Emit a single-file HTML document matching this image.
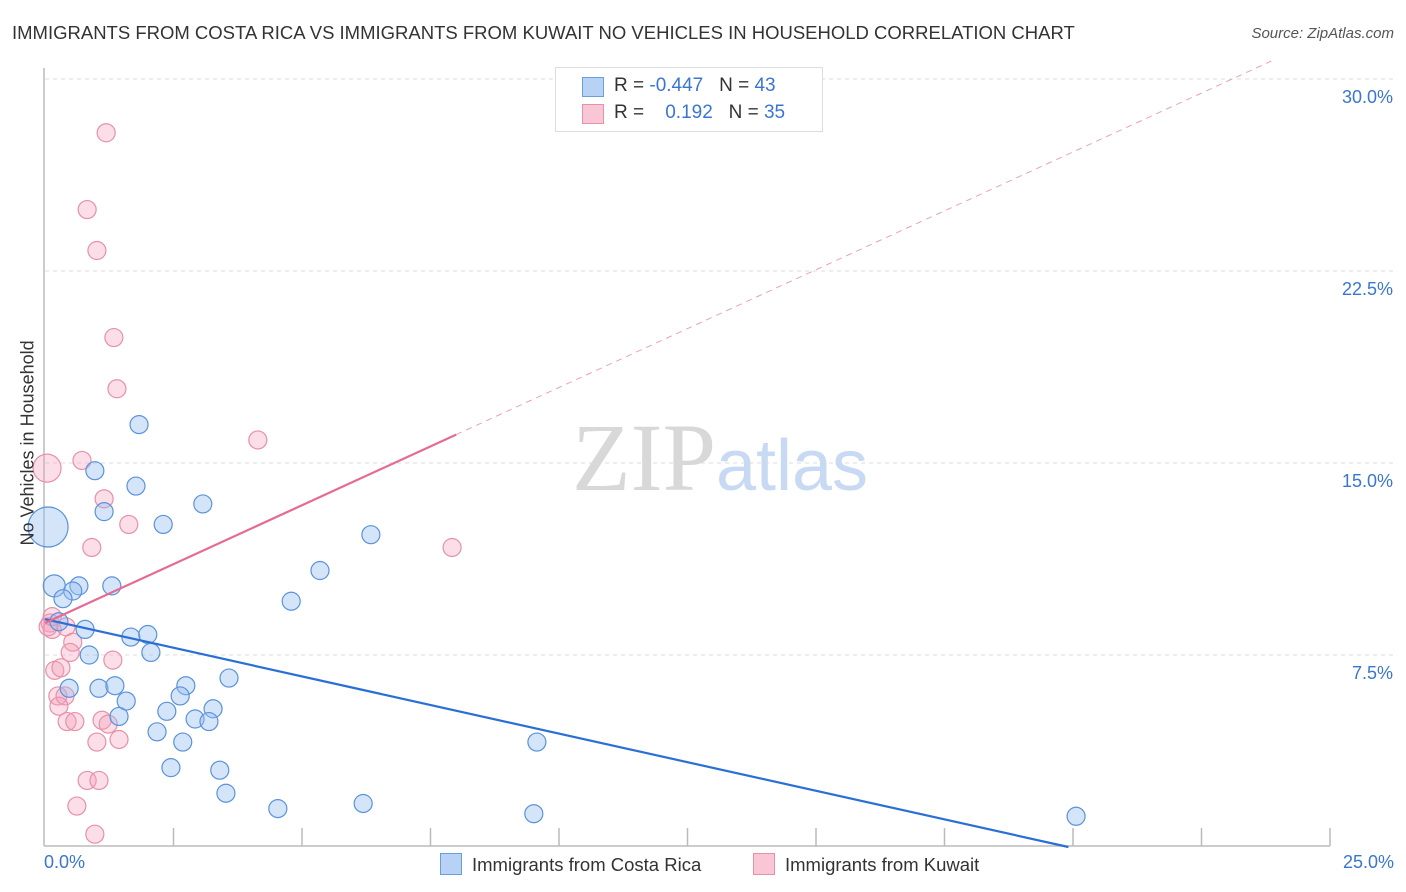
<!DOCTYPE html>
<html><head><meta charset="utf-8"><style>
body{margin:0;background:#fff;font-family:"Liberation Sans",sans-serif;}
#wrap{position:relative;width:1406px;height:892px;overflow:hidden}
.t{position:absolute;white-space:nowrap}
</style></head><body>
<div id="wrap">
<div class="t" style="left:12px;top:22px;font-size:18.5px;color:#333">IMMIGRANTS FROM COSTA RICA VS IMMIGRANTS FROM KUWAIT NO VEHICLES IN HOUSEHOLD CORRELATION CHART</div>
<div class="t" style="right:12px;top:25px;font-size:15px;color:#555;font-style:italic">Source: ZipAtlas.com</div>
<svg id="svg" width="1406" height="892" style="position:absolute;left:0;top:0"></svg>
</div>
<script>
const blueX=[1.83,0.97,1.77,1.15,3.07,2.30,6.34,0.06,0.18,0.66,0.54,0.35,1.30,5.35,4.79,0.27,0.78,1.67,2.00,2.06,0.86,3.58,0.47,1.05,1.36,2.74,2.63,1.58,2.37,3.27,2.92,3.19,1.44,2.18,2.68,9.57,2.45,3.40,3.52,4.53,6.19,9.51,20.06];
const blueY=[16.5,14.7,14.1,13.1,13.4,12.6,12.2,12.5,10.2,10.2,10.0,9.7,10.2,10.8,9.6,8.8,8.5,8.2,8.3,7.6,7.5,6.6,6.2,6.2,6.3,6.3,5.9,5.7,5.3,5.4,5.0,4.9,5.1,4.5,4.1,4.1,3.1,3.0,2.1,1.5,1.7,1.3,1.2];
const blueS=[9,9,9,9,9,9,9,20,11,9,9,9,9,9,9,9,9,9,9,9,9,9,9,9,9,9,9,9,9,9,9,9,9,9,9,9,9,9,9,9,9,9,9];
const pinkX=[1.19,0.82,1.01,1.34,1.40,4.14,0.04,0.72,1.15,1.63,0.91,7.92,0.10,0.14,0.41,0.54,0.49,1.32,0.19,0.31,0.25,0.39,0.27,0.43,0.58,1.11,1.23,1.44,1.01,0.82,1.05,0.62,0.97,0.06,0.14];
const pinkY=[27.9,24.9,23.3,19.9,17.9,15.9,14.8,15.1,13.6,12.6,11.7,11.7,8.75,8.5,8.6,8.0,7.6,7.3,6.9,7.0,5.9,5.9,5.5,4.9,4.9,4.95,4.8,4.2,4.1,2.6,2.6,1.6,0.5,8.6,9.0];
const pinkS=[9,9,9,9,9,9,14,9,9,9,9,9,9,9,9,9,9,9,9,9,9,9,9,9,9,9,9,9,9,9,9,9,9,9,9];
const xTicks=[0,2.5,5,7.5,10,12.5,15,17.5,20,22.5,25];
const yTicks=[7.5,15,22.5,30];
const blueLine=[8.9,-0.447];
const pinkLine=[8.75,0.92];
const X=v=>45+v*51.4, Y=v=>847-v*25.6;
const svg=document.getElementById('svg'),NS='http://www.w3.org/2000/svg';
function mk(t,a,name){const e=document.createElementNS(NS,t);for(const k in a)e.setAttribute(k,a[k]);


svg.appendChild(e);return e;}
yTicks.forEach(v=>{mk('line',{x1:45,x2:1393,y1:Y(v),y2:Y(v),stroke:'#ddd','stroke-dasharray':'4,4'},'gridline');
const t=mk('text',{x:1393,y:Y(v)+24,'text-anchor':'end','font-size':18,fill:'#3a76d0'},'y-tick-label');t.textContent=v.toFixed(1)+'%';});
mk('line',{x1:44,x2:44,y1:68,y2:846,stroke:'#bbb','stroke-width':1.5},'y-axis');
mk('line',{x1:44,x2:1330,y1:846,y2:846,stroke:'#bbb','stroke-width':1.5},'x-axis');
xTicks.forEach(v=>{if(v>0)mk('line',{x1:X(v),x2:X(v),y1:828,y2:846,stroke:'#bbb','stroke-width':1.5},'x-tick');});
const wt=mk('text',{x:720,y:490,'text-anchor':'middle','font-size':96,fill:'#d8d8d8','font-family':'Liberation Serif'},'watermark');wt.innerHTML='ZIP<tspan fill="#c8daf3" font-family="Liberation Sans" font-size="72">atlas</tspan>';
function dots(xs,ys,ss,fill,stroke,name){xs.forEach((v,i)=>mk('circle',{cx:X(v),cy:Y(ys[i]),r:ss[i],fill:fill,stroke:stroke,'stroke-width':1.2},name));}
dots(pinkX,pinkY,pinkS,'rgba(244,160,185,0.35)','#e890aa','kuwait-point');
dots(blueX,blueY,blueS,'rgba(150,190,240,0.4)','#5a92dc','costa-rica-point');
const bx2=-blueLine[0]/blueLine[1];
mk('line',{x1:X(0),y1:Y(blueLine[0]),x2:X(bx2),y2:Y(0),stroke:'#2a6fd6','stroke-width':2.2},'costa-rica-trendline');
mk('line',{x1:X(0),y1:Y(pinkLine[0]),x2:X(8),y2:Y(pinkLine[0]+8*pinkLine[1]),stroke:'#e66a92','stroke-width':2.2},'kuwait-trendline');
const pe=(30.7-pinkLine[0])/pinkLine[1];
mk('line',{x1:X(8),y1:Y(pinkLine[0]+8*pinkLine[1]),x2:X(pe),y2:Y(30.7),stroke:'#eaa0b8','stroke-width':1,'stroke-dasharray':'6,5'},'kuwait-trendline-extension');
</script>
<div class="t" style="left:44px;top:852px;font-size:18px;color:#3a76d0">0.0%</div>
<div class="t" style="right:12px;top:852px;font-size:18px;color:#3a76d0">25.0%</div>
<div class="t" style="left:-62px;top:445px;font-size:18px;color:#333;transform:rotate(-90deg);width:180px;text-align:center">No Vehicles in Household</div>
<div style="position:absolute;left:555px;top:67px;width:266px;height:63px;border:1px solid #ddd;background:#fff;font-size:19px;color:#333">
<div style="position:absolute;left:26px;top:9px;width:20px;height:18px;background:#b8d2f5;border:1px solid #6a9ee0"></div>
<div class="t" style="left:58px;top:7px">R = <span style="color:#3a76d0">-0.447</span>&nbsp;&nbsp;&nbsp;N = <span style="color:#3a76d0">43</span></div>
<div style="position:absolute;left:26px;top:36px;width:20px;height:18px;background:#f8c6d4;border:1px solid #e890aa"></div>
<div class="t" style="left:58px;top:34px">R = &nbsp;&nbsp;&nbsp;<span style="color:#3a76d0">0.192</span>&nbsp;&nbsp;&nbsp;N = <span style="color:#3a76d0">35</span></div>
</div>
<div style="position:absolute;left:440px;top:853px;font-size:18.5px;color:#333">
<span style="display:inline-block;width:20px;height:20px;background:#b8d2f5;border:1px solid #6a9ee0;vertical-align:-4px;margin-right:10px"></span>Immigrants from Costa Rica</div>
<div style="position:absolute;left:753px;top:853px;font-size:18.5px;color:#333">
<span style="display:inline-block;width:20px;height:20px;background:#f8c6d4;border:1px solid #e890aa;vertical-align:-4px;margin-right:10px"></span>Immigrants from Kuwait</div>
</body></html>
